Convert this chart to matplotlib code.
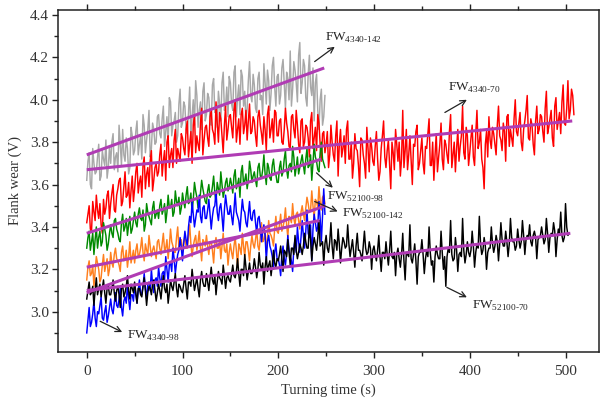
import numpy as np
import matplotlib
matplotlib.use("Agg")
import matplotlib.pyplot as plt
from matplotlib.ticker import MultipleLocator

plt.rcParams['font.family'] = ['Liberation Serif', 'DejaVu Serif']
plt.rcParams['mathtext.fontset'] = 'custom'
plt.rcParams['mathtext.rm'] = 'Liberation Serif'

STEP = 2.5  # spacing of each read-off list (s); the "_b" lists sit half a step later

gray_4340_142 = [
    3.62, 3.75, 3.58, 3.70, 3.66, 3.79, 3.64, 3.72, 3.81, 3.68,
    3.70, 3.84, 3.73, 3.66, 3.79, 3.86, 3.71, 3.77, 3.68, 3.83,
    3.76, 3.90, 3.79, 3.72, 3.88, 3.81, 3.95, 3.77, 3.86, 3.80,
    3.93, 3.82, 3.97, 3.85, 3.79, 3.99, 3.88, 3.94, 3.83, 4.05,
    3.89, 3.97, 3.84, 4.06, 3.92, 3.88, 4.02, 3.95, 3.86, 4.08,
    3.93, 4.01, 3.88, 4.10, 3.96, 4.04, 3.90, 4.13, 3.97, 3.92,
    4.08, 3.95, 4.16, 4.01, 3.93, 4.11, 4.04, 3.96, 4.18, 3.99,
    4.07, 3.94, 4.13, 4.02, 4.17, 3.98, 4.09, 4.03, 4.20, 3.97,
    4.12, 4.02, 4.19, 3.96, 4.10, 4.23, 4.05, 4.14, 3.99, 4.27,
    4.08, 4.16, 3.97, 4.21, 4.02, 3.90, 4.12, 3.86, 4.05, 3.92,
]
gray_4340_142_b = [
    3.71, 3.60, 3.77, 3.65, 3.73, 3.62, 3.76, 3.69, 3.63, 3.78,
    3.80, 3.67, 3.75, 3.88, 3.69, 3.74, 3.82, 3.65, 3.87, 3.74,
    3.85, 3.74, 3.83, 3.93, 3.75, 3.86, 3.73, 3.89, 3.79, 3.92,
    3.84, 3.91, 3.78, 3.92, 4.01, 3.83, 3.90, 3.80, 3.98, 3.87,
    3.99, 3.86, 3.94, 3.82, 4.00, 4.09, 3.87, 3.99, 4.04, 3.90,
    4.03, 3.91, 4.07, 3.94, 3.87, 3.98, 4.08, 3.95, 4.06, 4.11,
    3.98, 4.13, 3.92, 4.07, 4.14, 3.97, 3.90, 4.09, 4.02, 4.12,
    3.96, 4.10, 4.00, 3.93, 4.08, 4.14, 3.95, 4.16, 4.06, 4.11,
    3.98, 4.15, 4.07, 4.13, 4.00, 3.97, 4.18, 4.08, 4.21, 4.03,
    4.19, 4.01, 4.12, 4.06, 4.15, 4.08, 3.95, 4.00, 3.88, 4.02,
]

red_4340_70 = [
    3.42, 3.50, 3.38, 3.47, 3.55, 3.44, 3.41, 3.53, 3.49, 3.57,
    3.51, 3.60, 3.47, 3.58, 3.63, 3.52, 3.66, 3.55, 3.49, 3.64,
    3.58, 3.70, 3.61, 3.54, 3.73, 3.65, 3.59, 3.76, 3.62, 3.70,
    3.66, 3.79, 3.71, 3.62, 3.83, 3.74, 3.68, 3.86, 3.77, 3.71,
    3.82, 3.74, 3.90, 3.79, 3.70, 3.93, 3.83, 3.76, 3.96, 3.81,
    3.88, 3.78, 3.95, 3.84, 3.99, 3.80, 3.91, 3.75, 3.97, 3.86,
    3.93, 3.82, 4.00, 3.86, 3.79, 3.96, 3.88, 3.81, 3.98, 3.85,
    3.90, 3.78, 3.95, 3.84, 3.92, 3.76, 3.97, 3.86, 3.80, 3.94,
    3.83, 3.91, 3.79, 3.96, 3.85, 3.77, 3.93, 3.82, 3.88, 3.75,
    3.91, 3.80, 3.87, 3.73, 3.94, 3.82, 3.76, 3.89, 3.71, 3.85,
    3.79, 3.68, 3.88, 3.74, 3.83, 3.64, 3.86, 3.77, 3.70, 3.90,
    3.72, 3.63, 3.84, 3.76, 3.59, 3.81, 3.70, 3.87, 3.66, 3.78,
    3.69, 3.85, 3.62, 3.77, 3.90, 3.68, 3.81, 3.58, 3.75, 3.86,
    3.71, 3.64, 3.95, 3.76, 3.67, 3.83, 3.60, 3.78, 3.88, 3.70,
    3.82, 3.65, 3.77, 3.91, 3.69, 3.62, 3.84, 3.73, 3.89, 3.67,
    3.79, 3.70, 3.93, 3.74, 3.66, 3.86, 3.78, 3.97, 3.72, 3.83,
    3.75, 3.88, 3.69, 3.95, 3.80, 3.72, 3.58, 3.85, 3.92, 3.77,
    3.84, 3.74, 3.97, 3.81, 3.89, 3.71, 3.93, 3.86, 3.78, 4.00,
    3.83, 3.94, 3.76, 3.90, 4.02, 3.81, 3.88, 3.74, 3.97, 3.86,
    3.92, 3.80, 4.04, 3.87, 3.95, 3.78, 4.01, 3.90, 3.84, 4.07,
    3.88, 4.09, 3.95, 4.02,
]
red_4340_70_b = [
    3.46, 3.39, 3.52, 3.43, 3.48, 3.51, 3.37, 3.46, 3.55, 3.44,
    3.56, 3.48, 3.55, 3.62, 3.50, 3.59, 3.54, 3.61, 3.57, 3.52,
    3.66, 3.56, 3.64, 3.69, 3.58, 3.68, 3.71, 3.57, 3.68, 3.64,
    3.74, 3.64, 3.76, 3.80, 3.68, 3.77, 3.81, 3.70, 3.74, 3.84,
    3.77, 3.86, 3.73, 3.85, 3.88, 3.75, 3.79, 3.89, 3.74, 3.87,
    3.82, 3.92, 3.86, 3.79, 3.89, 3.94, 3.83, 3.88, 3.81, 3.92,
    3.87, 3.95, 3.80, 3.91, 3.93, 3.84, 3.95, 3.90, 3.84, 3.92,
    3.83, 3.92, 3.88, 3.79, 3.86, 3.93, 3.82, 3.91, 3.95, 3.83,
    3.90, 3.80, 3.86, 3.89, 3.78, 3.92, 3.86, 3.95, 3.79, 3.90,
    3.78, 3.88, 3.82, 3.90, 3.77, 3.87, 3.93, 3.79, 3.84, 3.75,
    3.85, 3.74, 3.80, 3.71, 3.90, 3.79, 3.73, 3.83, 3.86, 3.72,
    3.80, 3.70, 3.77, 3.69, 3.82, 3.74, 3.63, 3.77, 3.82, 3.71,
    3.78, 3.72, 3.66, 3.83, 3.73, 3.76, 3.70, 3.80, 3.67, 3.79,
    3.80, 3.72, 3.68, 3.86, 3.74, 3.71, 3.79, 3.85, 3.67, 3.76,
    3.70, 3.78, 3.84, 3.69, 3.80, 3.74, 3.66, 3.79, 3.72, 3.81,
    3.74, 3.85, 3.68, 3.80, 3.77, 3.71, 3.83, 3.75, 3.87, 3.69,
    3.82, 3.73, 3.84, 3.77, 3.86, 3.68, 3.79, 3.73, 3.81, 3.87,
    3.79, 3.88, 3.83, 3.76, 3.85, 3.92, 3.78, 3.82, 3.91, 3.85,
    3.89, 3.80, 3.86, 3.95, 3.82, 3.91, 3.79, 3.90, 3.84, 3.93,
    3.85, 3.96, 3.84, 3.91, 3.82, 3.97, 3.86, 3.94, 3.99, 3.89,
    3.96, 3.91, 4.05, 3.93,
]

green_52100_98 = [
    3.30, 3.38, 3.33, 3.27, 3.40, 3.35, 3.31, 3.42, 3.36, 3.32,
    3.41, 3.35, 3.44, 3.37, 3.33, 3.46, 3.40, 3.36, 3.45, 3.39,
    3.47, 3.40, 3.49, 3.43, 3.38, 3.51, 3.45, 3.41, 3.52, 3.46,
    3.44, 3.53, 3.48, 3.42, 3.55, 3.49, 3.45, 3.57, 3.50, 3.46,
    3.56, 3.49, 3.59, 3.52, 3.47, 3.61, 3.54, 3.50, 3.62, 3.55,
    3.51, 3.60, 3.55, 3.64, 3.52, 3.58, 3.66, 3.54, 3.61, 3.57,
    3.63, 3.56, 3.67, 3.60, 3.54, 3.69, 3.62, 3.58, 3.71, 3.61,
    3.66, 3.59, 3.70, 3.63, 3.74, 3.60, 3.68, 3.62, 3.72, 3.65,
    3.61, 3.71, 3.66, 3.76, 3.63, 3.70, 3.78, 3.64, 3.73, 3.68,
    3.74, 3.65, 3.77, 3.69, 3.62, 3.79, 3.71, 3.66, 3.80, 3.70,
]
green_52100_98_b = [
    3.35, 3.29, 3.37, 3.34, 3.30, 3.38, 3.33, 3.39, 3.29, 3.37,
    3.37, 3.43, 3.39, 3.34, 3.42, 3.38, 3.44, 3.41, 3.37, 3.43,
    3.42, 3.46, 3.44, 3.48, 3.41, 3.47, 3.43, 3.49, 3.44, 3.48,
    3.50, 3.46, 3.51, 3.47, 3.49, 3.53, 3.47, 3.52, 3.54, 3.49,
    3.52, 3.55, 3.51, 3.56, 3.53, 3.57, 3.49, 3.56, 3.58, 3.52,
    3.57, 3.54, 3.59, 3.56, 3.61, 3.55, 3.60, 3.57, 3.63, 3.59,
    3.60, 3.64, 3.58, 3.63, 3.66, 3.60, 3.65, 3.62, 3.67, 3.64,
    3.62, 3.68, 3.64, 3.67, 3.65, 3.70, 3.63, 3.69, 3.66, 3.61,
    3.68, 3.64, 3.72, 3.67, 3.69, 3.66, 3.73, 3.68, 3.65, 3.71,
    3.69, 3.72, 3.68, 3.74, 3.70, 3.73, 3.67, 3.75, 3.72, 3.68,
]

orange_52100_142 = [
    3.15, 3.24, 3.18, 3.12, 3.26, 3.20, 3.16, 3.27, 3.22, 3.17,
    3.28, 3.21, 3.30, 3.24, 3.19, 3.31, 3.25, 3.21, 3.33, 3.26,
    3.23, 3.32, 3.27, 3.35, 3.24, 3.29, 3.36, 3.26, 3.31, 3.25,
    3.34, 3.27, 3.37, 3.30, 3.25, 3.39, 3.31, 3.28, 3.40, 3.32,
    3.28, 3.36, 3.30, 3.41, 3.26, 3.34, 3.29, 3.38, 3.24, 3.33,
    3.36, 3.27, 3.33, 3.23, 3.35, 3.30, 3.25, 3.37, 3.28, 3.22,
    3.32, 3.25, 3.35, 3.21, 3.30, 3.37, 3.26, 3.33, 3.24, 3.36,
    3.30, 3.39, 3.29, 3.42, 3.34, 3.28, 3.43, 3.36, 3.31, 3.45,
    3.37, 3.46, 3.40, 3.49, 3.35, 3.44, 3.51, 3.41, 3.47, 3.39,
    3.50, 3.43, 3.54, 3.47, 3.57, 3.44, 3.52, 3.59, 3.48, 3.55,
]
orange_52100_142_b = [
    3.21, 3.17, 3.22, 3.19, 3.23, 3.14, 3.22, 3.19, 3.25, 3.20,
    3.23, 3.27, 3.25, 3.22, 3.28, 3.24, 3.29, 3.26, 3.23, 3.29,
    3.29, 3.26, 3.30, 3.28, 3.32, 3.27, 3.31, 3.29, 3.28, 3.33,
    3.30, 3.32, 3.29, 3.34, 3.31, 3.33, 3.28, 3.35, 3.30, 3.34,
    3.33, 3.30, 3.35, 3.32, 3.31, 3.36, 3.33, 3.30, 3.34, 3.31,
    3.31, 3.33, 3.29, 3.32, 3.30, 3.34, 3.31, 3.29, 3.32, 3.28,
    3.28, 3.31, 3.29, 3.32, 3.27, 3.31, 3.33, 3.29, 3.31, 3.32,
    3.34, 3.31, 3.35, 3.33, 3.38, 3.35, 3.37, 3.34, 3.39, 3.38,
    3.41, 3.38, 3.43, 3.41, 3.45, 3.42, 3.44, 3.46, 3.43, 3.47,
    3.46, 3.49, 3.51, 3.48, 3.50, 3.53, 3.49, 3.52, 3.54, 3.51,
]

blue_4340_98 = [
    2.90, 3.02, 2.95, 3.05, 2.93, 2.99, 3.07, 2.96, 3.03, 2.98,
    3.06, 2.99, 3.09, 3.02, 3.11, 2.98, 3.07, 3.13, 3.01, 3.08,
    3.12, 3.04, 3.15, 3.08, 3.18, 3.06, 3.14, 3.20, 3.09, 3.16,
    3.21, 3.12, 3.19, 3.26, 3.14, 3.23, 3.30, 3.18, 3.27, 3.35,
    3.24, 3.38, 3.31, 3.45, 3.52, 3.40, 3.48, 3.55, 3.42, 3.50,
    3.44, 3.53, 3.39, 3.49, 3.57, 3.43, 3.51, 3.38, 3.55, 3.46,
    3.50, 3.41, 3.56, 3.45, 3.38, 3.53, 3.47, 3.40, 3.52, 3.43,
    3.48, 3.37, 3.45, 3.33, 3.41, 3.24, 3.36, 3.29, 3.20, 3.32,
    3.25, 3.17, 3.31, 3.22, 3.36, 3.26, 3.19, 3.34, 3.40, 3.28,
    3.43, 3.30, 3.48, 3.35, 3.24, 3.46, 3.38, 3.52, 3.33, 3.58,
]
blue_4340_98_b = [
    2.96, 2.93, 2.99, 2.97, 3.00, 3.03, 2.97, 3.00, 2.95, 3.02,
    3.01, 3.04, 3.03, 3.06, 3.02, 3.05, 3.04, 3.06, 3.08, 3.05,
    3.08, 3.10, 3.09, 3.12, 3.11, 3.13, 3.10, 3.13, 3.15, 3.12,
    3.16, 3.18, 3.15, 3.20, 3.22, 3.19, 3.25, 3.23, 3.29, 3.30,
    3.32, 3.34, 3.40, 3.42, 3.46, 3.44, 3.47, 3.45, 3.49, 3.44,
    3.48, 3.46, 3.45, 3.50, 3.47, 3.49, 3.45, 3.48, 3.50, 3.46,
    3.45, 3.48, 3.47, 3.43, 3.46, 3.48, 3.42, 3.46, 3.44, 3.47,
    3.42, 3.44, 3.40, 3.38, 3.36, 3.33, 3.31, 3.26, 3.28, 3.25,
    3.22, 3.27, 3.25, 3.28, 3.29, 3.24, 3.30, 3.28, 3.33, 3.35,
    3.36, 3.38, 3.37, 3.41, 3.39, 3.42, 3.40, 3.44, 3.45, 3.46,
]

black_52100_70 = [
    3.06, 3.14, 3.09, 3.03, 3.16, 3.11, 3.07, 3.15, 3.04, 3.12,
    3.08, 3.15, 3.05, 3.12, 3.02, 3.13, 3.09, 3.17, 3.06, 3.11,
    3.14, 3.04, 3.11, 3.07, 3.16, 3.03, 3.12, 3.08, 3.15, 3.05,
    3.13, 3.06, 3.17, 3.09, 3.04, 3.15, 3.10, 3.18, 3.07, 3.12,
    3.09, 3.17, 3.06, 3.14, 3.20, 3.10, 3.16, 3.07, 3.19, 3.12,
    3.18, 3.10, 3.21, 3.13, 3.08, 3.19, 3.15, 3.22, 3.11, 3.17,
    3.14, 3.22, 3.16, 3.25, 3.12, 3.20, 3.27, 3.15, 3.23, 3.18,
    3.25, 3.16, 3.28, 3.20, 3.13, 3.26, 3.22, 3.17, 3.29, 3.21,
    3.24, 3.31, 3.19, 3.28, 3.34, 3.22, 3.30, 3.36, 3.25, 3.32,
    3.27, 3.37, 3.30, 3.41, 3.24, 3.35, 3.29, 3.43, 3.32, 3.22,
    3.36, 3.28, 3.42, 3.25, 3.33, 3.39, 3.23, 3.35, 3.30, 3.41,
    3.26, 3.34, 3.21, 3.37, 3.29, 3.24, 3.38, 3.27, 3.33, 3.20,
    3.31, 3.24, 3.36, 3.19, 3.28, 3.33, 3.22, 3.38, 3.25, 3.17,
    3.30, 3.21, 3.37, 3.15, 3.27, 3.41, 3.23, 3.32, 3.13, 3.28,
    3.34, 3.18, 3.29, 3.40, 3.22, 3.14, 3.31, 3.25, 3.38, 3.20,
    3.12, 3.30, 3.43, 3.24, 3.35, 3.19, 3.28, 3.44, 3.23, 3.33,
    3.26, 3.38, 3.21, 3.32, 3.45, 3.27, 3.35, 3.20, 3.30, 3.40,
    3.28, 3.36, 3.24, 3.42, 3.31, 3.38, 3.26, 3.44, 3.33, 3.29,
    3.39, 3.30, 3.43, 3.27, 3.36, 3.41, 3.31, 3.38, 3.25, 3.35,
    3.40, 3.32, 3.44, 3.28, 3.37, 3.42, 3.26, 3.39, 3.47, 3.33,
    3.51, 3.36,
]
black_52100_70_b = [
    3.10, 3.08, 3.12, 3.10, 3.08, 3.13, 3.11, 3.09, 3.11, 3.08,
    3.11, 3.09, 3.10, 3.08, 3.11, 3.07, 3.12, 3.10, 3.13, 3.09,
    3.09, 3.11, 3.08, 3.12, 3.10, 3.09, 3.11, 3.13, 3.10, 3.09,
    3.10, 3.12, 3.11, 3.13, 3.09, 3.12, 3.14, 3.11, 3.13, 3.10,
    3.13, 3.11, 3.14, 3.12, 3.15, 3.13, 3.11, 3.15, 3.14, 3.12,
    3.14, 3.16, 3.15, 3.17, 3.14, 3.16, 3.13, 3.17, 3.16, 3.15,
    3.18, 3.17, 3.19, 3.18, 3.20, 3.17, 3.21, 3.19, 3.18, 3.20,
    3.21, 3.20, 3.22, 3.23, 3.21, 3.19, 3.24, 3.22, 3.23, 3.25,
    3.27, 3.25, 3.29, 3.26, 3.28, 3.30, 3.27, 3.29, 3.28, 3.30,
    3.31, 3.33, 3.30, 3.34, 3.31, 3.32, 3.35, 3.31, 3.33, 3.32,
    3.30, 3.33, 3.31, 3.34, 3.29, 3.32, 3.30, 3.33, 3.31, 3.32,
    3.30, 3.28, 3.31, 3.29, 3.27, 3.31, 3.30, 3.28, 3.30, 3.29,
    3.27, 3.29, 3.26, 3.28, 3.25, 3.27, 3.29, 3.26, 3.28, 3.27,
    3.25, 3.27, 3.24, 3.28, 3.26, 3.25, 3.27, 3.24, 3.26, 3.28,
    3.27, 3.25, 3.26, 3.28, 3.24, 3.26, 3.27, 3.25, 3.28, 3.26,
    3.26, 3.28, 3.27, 3.25, 3.29, 3.27, 3.26, 3.29, 3.27, 3.28,
    3.29, 3.31, 3.28, 3.30, 3.32, 3.29, 3.31, 3.28, 3.30, 3.32,
    3.31, 3.33, 3.32, 3.34, 3.31, 3.33, 3.32, 3.35, 3.33, 3.31,
    3.34, 3.33, 3.36, 3.34, 3.35, 3.33, 3.36, 3.35, 3.34, 3.36,
    3.36, 3.34, 3.37, 3.35, 3.36, 3.38, 3.34, 3.37, 3.36, 3.35,
    3.40, 3.37,
]

# fitted trend lines: (t_start, t_end, v_start, v_end)
fit_4340_142 = (0, 248, 3.74, 4.15)
fit_4340_70 = (0, 507, 3.67, 3.90)
fit_52100_98 = (0, 245, 3.37, 3.72)
fit_52100_142 = (0, 243, 3.21, 3.43)
fit_4340_98 = (0, 249, 3.09, 3.50)
fit_52100_70 = (0, 505, 3.10, 3.37)

# labels: (text_sub, label_xy, arrow_tail, arrow_head)
labels = [
    ("4340-142", (249, 4.29), (238, 4.18), (259, 4.25)),
    ("4340-70", (377, 4.055), (374, 3.94), (397, 4.00)),
    ("52100-98", (251, 3.54), (240, 3.655), (257, 3.585)),
    ("52100-142", (267, 3.46), (238, 3.52), (262, 3.473)),
    ("52100-70", (402, 3.025), (376, 3.115), (397, 3.068)),
    ("4340-98", (42, 2.885), (14, 2.955), (37, 2.904)),
]

series = [
    (gray_4340_142, gray_4340_142_b, '#a8a8a8'),
    (red_4340_70, red_4340_70_b, '#ff0000'),
    (green_52100_98, green_52100_98_b, '#008a00'),
    (orange_52100_142, orange_52100_142_b, '#ff7f1e'),
    (blue_4340_98, blue_4340_98_b, '#0000ff'),
    (black_52100_70, black_52100_70_b, '#000000'),
]
fits = [fit_4340_142, fit_4340_70, fit_52100_98, fit_52100_142, fit_4340_98, fit_52100_70]

fig = plt.figure(figsize=(6.0, 4.01), dpi=100)
ax = fig.add_axes([0.0967, 0.1222, 0.9017, 0.8529])

for va, vb, col in series:
    ta = np.arange(len(va)) * STEP
    tb = np.arange(len(vb)) * STEP + STEP / 2
    t = np.concatenate([ta, tb])
    v = np.concatenate([va, vb])
    order = np.argsort(t, kind='stable')
    ax.plot(t[order], v[order], color=col, lw=1.05, zorder=2)

for t0, t1, v0, v1 in fits:
    ax.plot([t0, t1], [v0, v1], color='#b03cb4', lw=2.2, zorder=3, solid_capstyle='butt')

for sub, lxy, tail, head in labels:
    ax.text(lxy[0], lxy[1], r'FW$_{\text{%s}}$' % sub, fontsize=9.5, color='#222222',
            ha='left', va='center', zorder=5)
    ax.annotate('', xy=head, xytext=tail,
                arrowprops=dict(arrowstyle='->', lw=0.9, color='#222222',
                                shrinkA=0, shrinkB=0, mutation_scale=10), zorder=5)

ax.set_xlim(-30, 535)
ax.set_ylim(2.81, 4.4235)
ax.xaxis.set_major_locator(MultipleLocator(100))
ax.xaxis.set_minor_locator(MultipleLocator(50))
ax.yaxis.set_major_locator(MultipleLocator(0.2))
ax.yaxis.set_minor_locator(MultipleLocator(0.1))
ax.yaxis.set_major_formatter(matplotlib.ticker.FormatStrFormatter('%.1f'))
ax.tick_params(axis='both', which='both', direction='out', colors='#222222',
               labelcolor='#333333', labelsize=11, top=True, right=False)
ax.tick_params(which='major', length=4.5, width=1.0)
ax.tick_params(which='minor', length=2.8, width=1.0)
ax.tick_params(axis='x', pad=5)
ax.tick_params(axis='y', pad=2)
for s in ax.spines.values():
    s.set_linewidth(1.1)
    s.set_color('#222222')

ax.set_xlabel('Turning time (s)', fontsize=10.5, color='#333333', labelpad=4)
ax.set_ylabel('Flank wear (V)', fontsize=10.5, color='#333333', labelpad=6)

fig.savefig('out.png', dpi=100)
